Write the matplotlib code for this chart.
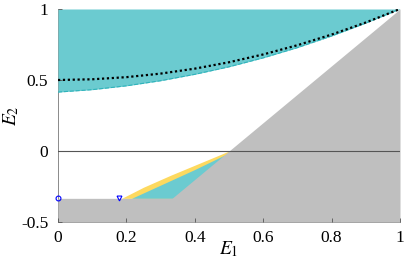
import matplotlib
matplotlib.use('Agg')
import matplotlib.pyplot as plt

plt.rcParams['font.family'] = 'Liberation Serif'
plt.rcParams['mathtext.fontset'] = 'stix'

# curve sampled on x = 0, 0.1, ..., 1
curve_x = [0.0, 0.1, 0.2, 0.3, 0.4, 0.5, 0.6, 0.7, 0.8, 0.9, 1.0]
dotted_y = [0.5, 0.505, 0.52, 0.545, 0.58, 0.625, 0.68, 0.745, 0.82, 0.905, 1.0]
teal_low = [0.415, 0.432, 0.459, 0.495, 0.54, 0.593, 0.656, 0.728, 0.81, 0.901, 1.0]

# gray region boundary
gray_x = [0.0, 1/3, 1.0]
gray_y = [-1/3, -1/3, 1.0]

# small regions near the corner
yellow_x = [0.186, 0.25, 0.33, 0.42, 0.5]
yellow_y = [-1/3, -0.255, -0.17, -0.08, 0.0]
teal2_x = [0.215, 0.3, 0.4, 0.49]
teal2_y = [-1/3, -0.24, -0.13, -0.025]

# markers
circ_pt = (0.0, -1/3)
tri_pt = (0.177, -1/3)

teal = '#6bcbd0'
gray = '#bfbfbf'
yellow = '#fdd95f'

fig = plt.figure(figsize=(4.15, 2.6), dpi=100)
ax = fig.add_axes([58/415, 1 - 222/260, 342/415, 213/260])

ax.fill_between(curve_x, teal_low, 1, color=teal, lw=0)
ax.plot(curve_x, teal_low, color='#2fb3bb', ls='--', lw=0.8)
ax.plot(curve_x, dotted_y, color='k', ls=(0, (1, 1.2)), lw=1.6)

ax.fill_between(yellow_x, yellow_y, -1/3, color=yellow, lw=0)
ax.fill_between(teal2_x, teal2_y, -1/3, color=teal, lw=0)
ax.fill_between(gray_x, gray_y, -0.5, color=gray, lw=0)

ax.axhline(0, color='#555555', lw=0.8)

ax.plot(*circ_pt, marker='o', ms=3.5, mfc='none', mec='blue', mew=0.8, clip_on=False)
ax.plot(*tri_pt, marker='v', ms=3.5, mfc='none', mec='blue', mew=0.8, clip_on=False)

ax.set_xlim(0, 1)
ax.set_ylim(-0.5, 1)
ax.set_xticks([0, 0.2, 0.4, 0.6, 0.8, 1])
ax.set_xticklabels(['0', '0.2', '0.4', '0.6', '0.8', '1'])
ax.set_yticks([-0.5, 0, 0.5, 1])
ax.set_yticklabels(['-0.5', '0', '0.5', '1'])
ax.tick_params(direction='in', length=3, width=0.6, color='#555555', labelsize=12.5)
ax.tick_params(axis='x', pad=6)
ax.tick_params(axis='y', pad=7)

for s in ['top', 'right']:
    ax.spines[s].set_visible(False)
for s in ['left', 'bottom']:
    ax.spines[s].set_color('#777777')
    ax.spines[s].set_linewidth(0.6)
    ax.spines[s].set_zorder(0.5)

ax.set_xlabel('$E_1$', fontsize=14, labelpad=-5)
ax.set_ylabel('$E_2$', fontsize=14, labelpad=0)

fig.savefig('out.png', dpi=100)
